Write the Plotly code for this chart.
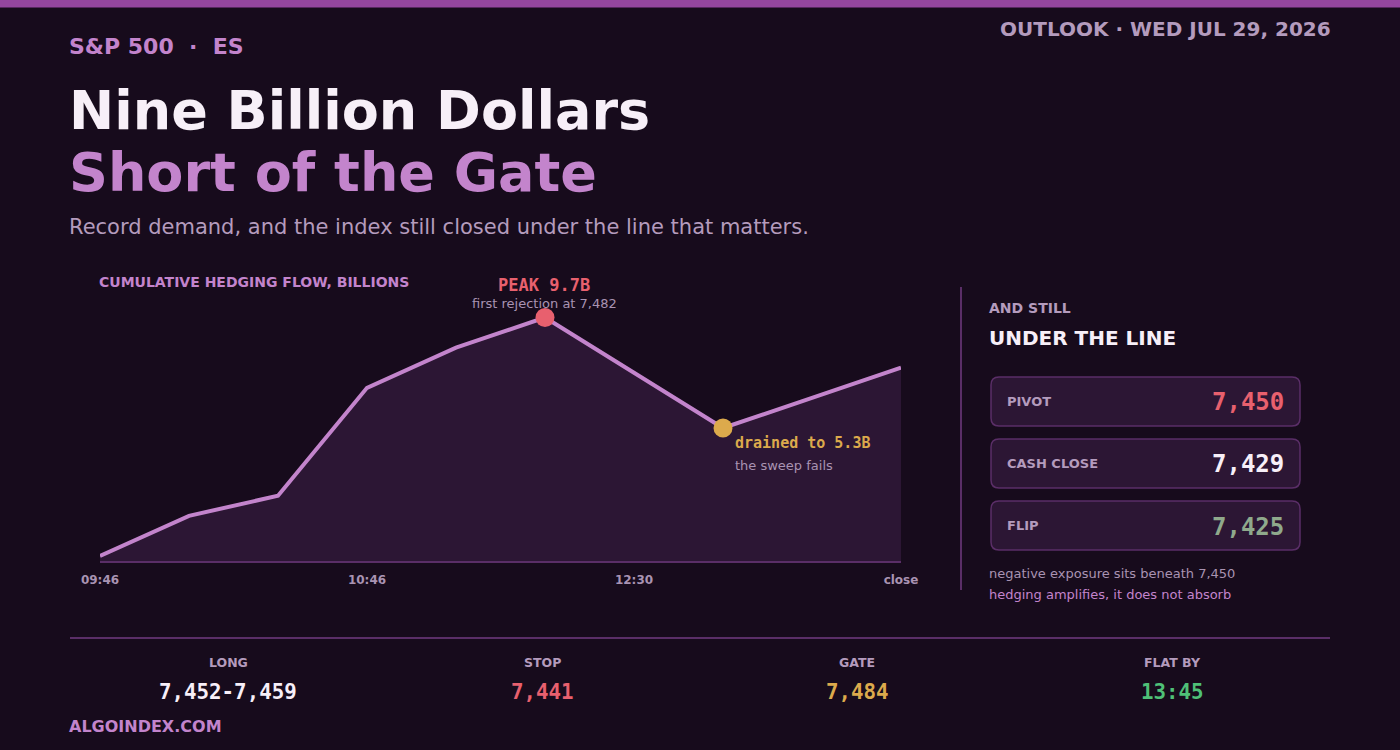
import plotly.graph_objects as go

# cumulative hedging flow, billions
slots = [0, 1, 2, 3, 4, 5, 6, 7, 8, 9]
flow = [0.2, 1.8, 2.6, 6.9, 8.5, 9.7, 7.5, 5.3, 6.5, 7.7]
tick_slots = [0, 3, 6, 9]
tick_labels = ["09:46", "10:46", "12:30", "close"]

peak_slot, peak_val = 5, 9.7
low_slot, low_val = 7, 5.3

card_labels = ["PIVOT", "CASH CLOSE", "FLIP"]
card_values = ["7,450", "7,429", "7,425"]
card_colors = ["#e8606e", "#f7eff8", "#8fa98c"]

stat_labels = ["LONG", "STOP", "GATE", "FLAT BY"]
stat_values = ["7,452-7,459", "7,441", "7,484", "13:45"]
stat_colors = ["#f7eff8", "#e8606e", "#dcaa4c", "#4fc077"]

BG = "#170b1c"
FILL = "#2c1634"
LINE = "#c384cc"
MUTED = "#a993b2"
LAV = "#c384cc"
EDGE = "#5a2e67"
SANS = "DejaVu Sans"
MONO = "DejaVu Sans Mono"

W, H = 1400, 750


def px(x):
    return x / W


def py(y):
    return 1 - y / H


fig = go.Figure()
fig.add_trace(go.Scatter(x=slots, y=flow, mode="lines", fill="tozeroy",
                         fillcolor=FILL, line=dict(color=LINE, width=4),
                         hoverinfo="skip", showlegend=False))
fig.add_trace(go.Scatter(x=[peak_slot], y=[peak_val], mode="markers",
                         marker=dict(color="#e8606e", size=19),
                         hoverinfo="skip", showlegend=False))
fig.add_trace(go.Scatter(x=[low_slot], y=[low_val], mode="markers",
                         marker=dict(color="#dcaa4c", size=19),
                         hoverinfo="skip", showlegend=False))

ann = []

# annotation boxes carry a few px of padding, nudge so text edges land on x
NUDGE = {"left": -3, "center": 0, "right": 3}


def text(x, y, s, size, color, anchor="left", font=SANS, weight=400):
    ann.append(dict(x=px(x), y=py(y), xref="paper", yref="paper", text=s,
                    showarrow=False, xanchor=anchor, yanchor="middle",
                    xshift=NUDGE[anchor],
                    font=dict(family=font, size=size, color=color, weight=weight)))


# header
text(70, 47, "S&P 500\u00a0\u00a0·\u00a0\u00a0ES", 22, LAV, weight=700)
text(1330, 29, "OUTLOOK · WED JUL 29, 2026", 20, "#b49bbd", anchor="right", weight=700)
text(70, 110, "Nine Billion Dollars", 54, "#f7eff8", weight=700)
text(70, 172, "Short of the Gate", 54, LAV, weight=700)
text(70, 227, "Record demand, and the index still closed under the line that matters.",
     21, "#b49bbd")

# chart labels
text(100, 282, "CUMULATIVE HEDGING FLOW, BILLIONS", 14, LAV, weight=700)
text(544, 285, "PEAK 9.7B", 17, "#e8606e", anchor="center", font=MONO, weight=700)
text(544, 303, "first rejection at 7,482", 13, MUTED, anchor="center")
text(736, 443, "drained to 5.3B", 15, "#dcaa4c", font=MONO, weight=700)
text(736, 465, "the sweep fails", 13, MUTED)

# right panel
text(990, 308, "AND STILL", 14, "#b49bbd", weight=700)
text(990, 338, "UNDER THE LINE", 20, "#f7eff8", weight=700)

shapes = [
    dict(type="rect", xref="paper", yref="paper", x0=0, x1=1, y0=py(7.5), y1=1,
         fillcolor="#94469e", line=dict(width=0)),
    dict(type="line", xref="paper", yref="paper", x0=px(961), x1=px(961),
         y0=py(287), y1=py(590), line=dict(color=EDGE, width=2)),
    dict(type="line", xref="paper", yref="paper", x0=px(70), x1=px(1330),
         y0=py(638), y1=py(638), line=dict(color=EDGE, width=2)),
]


def rounded(x0, y0, x1, y1, r):
    rx, ry = r / W, r / H
    X0, X1, Y0, Y1 = px(x0), px(x1), py(y0), py(y1)
    return (f"M {X0 + rx},{Y0} L {X1 - rx},{Y0} Q {X1},{Y0} {X1},{Y0 - ry} "
            f"L {X1},{Y1 + ry} Q {X1},{Y1} {X1 - rx},{Y1} "
            f"L {X0 + rx},{Y1} Q {X0},{Y1} {X0},{Y1 + ry} "
            f"L {X0},{Y0 - ry} Q {X0},{Y0} {X0 + rx},{Y0} Z")


for i, (lab, val, col) in enumerate(zip(card_labels, card_values, card_colors)):
    top = 377 + i * 62
    shapes.append(dict(type="path", xref="paper", yref="paper",
                       path=rounded(991, top, 1300, top + 49, 8),
                       fillcolor=FILL, line=dict(color=EDGE, width=1.5), layer="below"))
    text(1008, top + 24.5, lab, 13, "#b49bbd", weight=700)
    text(1283, top + 25.5, val, 24, col, anchor="right", font=MONO, weight=700)

text(990, 573, "negative exposure sits beneath 7,450", 13, MUTED)
text(990, 594, "hedging amplifies, it does not absorb", 13, LAV)

# bottom stats
for i, (lab, val, col) in enumerate(zip(stat_labels, stat_values, stat_colors)):
    cx = 228 + i * 314.7
    text(cx, 662, lab, 12.5, "#b49bbd", anchor="center", weight=700)
    text(cx, 692, val, 20.8, col, anchor="center", font=MONO, weight=700)

text(70, 726, "ALGOINDEX.COM", 16, LAV, weight=700)

fig.update_layout(
    width=W, height=H, paper_bgcolor=BG, plot_bgcolor=BG,
    margin=dict(l=0, r=0, t=0, b=0, autoexpand=False), showlegend=False,
    annotations=ann, shapes=shapes,
    xaxis=dict(domain=[px(100), px(901)], range=[0, 9], showgrid=False,
               zeroline=False, showline=True, linecolor=EDGE, linewidth=2,
               tickvals=tick_slots, ticktext=tick_labels, ticks="",
               ticklabelstandoff=7, automargin=False,
               tickfont=dict(family=SANS, size=12, color=MUTED, weight=700),
               fixedrange=True),
    yaxis=dict(domain=[py(561), py(300)], range=[0, 10.4], showgrid=False,
               zeroline=False, showticklabels=False, automargin=False,
               fixedrange=True),
)

fig.write_html("out.html", config={"displayModeBar": False},
               post_script="document.body.style.margin='0';")
